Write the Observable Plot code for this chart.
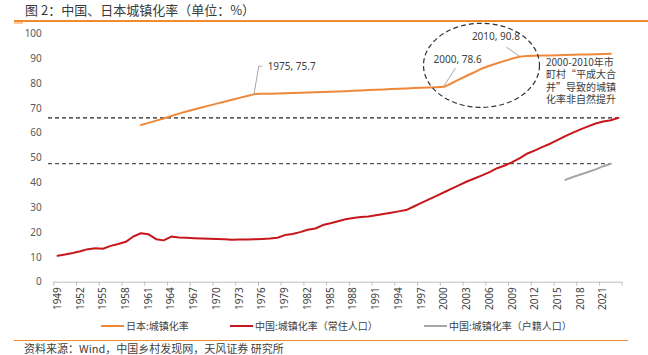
<!DOCTYPE html>
<html><head><meta charset="utf-8">
<script src="https://cdn.jsdelivr.net/npm/d3@7"></script>
<script src="https://cdn.jsdelivr.net/npm/@observablehq/plot@0.6"></script>
<style>
body{margin:0;background:#fff;}
#wrap{position:relative;width:648px;height:355px;font-family:"Noto Sans CJK SC","Noto Sans",sans-serif;color:#404040;overflow:hidden;background:#fff}
#title{position:absolute;left:25px;top:2px;font-size:13px;line-height:16px;color:#3a3a3a;white-space:nowrap}
#topline{position:absolute;left:14px;top:20px;width:634px;height:1.5px;background:#F08A2C}
#topmark{position:absolute;left:14px;top:21.5px;width:9px;height:2px;background:#F9C89B}
#chart{position:absolute;left:0;top:22px}
#note{position:absolute;left:546px;top:56px;font-size:10px;line-height:12.3px;color:#404040;white-space:nowrap}
.lg{position:absolute;top:319px;font-size:10px;line-height:14px;color:#404040;white-space:nowrap}
.sw{position:absolute;top:325px;width:23px;height:2px}
#botline{position:absolute;left:14px;top:339.5px;width:614px;height:1.5px;background:#F08A2C}
#source{position:absolute;left:24px;top:341.5px;font-size:11px;line-height:13px;color:#404040;white-space:nowrap}
</style></head><body>
<div id="wrap">
 <div id="title">图&nbsp;2：中国、日本城镇化率（单位：%）</div>
 <div id="topline"></div><div id="topmark"></div>
 <div id="chart"></div>
 <div id="note">2000-2010年市<br>町村“平成大合<br>并”导致的城镇<br>化率非自然提升</div>
 <div id="legend"></div>
 <div id="botline"></div>
 <div id="source">资料来源：Wind，中国乡村发现网，天风证券 研究所</div>
</div>
<script>
// ---------------- data ----------------
const chinaYears = [1949,1950,1951,1952,1953,1954,1955,1956,1957,1958,1959,1960,1961,1962,1963,1964,1965,1966,1967,1968,1969,1970,1971,1972,1973,1974,1975,1976,1977,1978,1979,1980,1981,1982,1983,1984,1985,1986,1987,1988,1989,1990,1991,1992,1993,1994,1995,1996,1997,1998,1999,2000,2001,2002,2003,2004,2005,2006,2007,2008,2009,2010,2011,2012,2013,2014,2015,2016,2017,2018,2019,2020,2021,2022,2023];
const chinaResident = [10.64,11.18,11.78,12.46,13.31,13.69,13.48,14.62,15.39,16.25,18.41,19.75,19.29,17.33,16.84,18.37,17.98,17.86,17.74,17.62,17.50,17.38,17.26,17.13,17.20,17.16,17.34,17.44,17.55,17.92,18.96,19.39,20.16,21.13,21.62,23.01,23.71,24.52,25.32,25.81,26.21,26.41,26.94,27.46,27.99,28.51,29.04,30.48,31.91,33.35,34.78,36.22,37.66,39.09,40.53,41.76,42.99,44.34,45.89,46.99,48.34,49.95,51.83,53.10,54.49,55.75,57.33,58.84,60.24,61.50,62.71,63.89,64.72,65.22,66.16];

const japanYears = [1960,1961,1962,1963,1964,1965,1966,1967,1968,1969,1970,1971,1972,1973,1974,1975,1976,1977,1978,1979,1980,1981,1982,1983,1984,1985,1986,1987,1988,1989,1990,1991,1992,1993,1994,1995,1996,1997,1998,1999,2000,2001,2002,2003,2004,2005,2006,2007,2008,2009,2010,2011,2012,2013,2014,2015,2016,2017,2018,2019,2020,2021,2022];
const japanUrban = [63.27,64.15,65.04,65.93,66.88,67.87,68.69,69.51,70.30,71.09,71.88,72.66,73.43,74.20,74.96,75.72,75.82,75.91,76.00,76.09,76.18,76.28,76.38,76.48,76.58,76.68,76.80,76.92,77.04,77.16,77.34,77.48,77.61,77.75,77.89,78.02,78.14,78.27,78.40,78.52,78.65,80.09,81.65,83.12,84.51,86.04,87.15,88.15,89.11,90.02,90.81,91.07,91.16,91.23,91.30,91.38,91.46,91.54,91.62,91.70,91.78,91.87,91.95];

const hukouYears = [2016,2017,2018,2019,2020,2021,2022];
const chinaHukou = [41.2,42.35,43.37,44.38,45.4,46.7,47.7];

const xLabelYears = [1949,1952,1955,1958,1961,1964,1967,1970,1973,1976,1979,1982,1985,1988,1991,1994,1997,2000,2003,2006,2009,2012,2015,2018,2021];
const yTicks = [0,10,20,30,40,50,60,70,80,90,100];

const refValues = [66.16, 47.7];
const refEndYears = [2023, 2022];

const annYears = [1975, 2000, 2010];
const annValues = [75.7, 78.6, 90.8];
const annLabels = ["1975, 75.7", "2000, 78.6", "2010, 90.8"];

const seriesNames = ["日本:城镇化率", "中国:城镇化率（常住人口）", "中国:城镇化率（户籍人口）"];

// ---------------- styles ----------------
const C_JP = "#F0883A", C_CN = "#C8161D", C_HK = "#A6A6A6";
const seriesColors = [C_JP, C_CN, C_HK];
const annLabelOffset = [[13,-27],[-10.5,-27],[-48,-20]];
const annLeaders = [[[0,0],[4.6,-27.5],[8.1,-27.5]], [[0,0],[11.8,-18.2]], [[0,0],[-13,-9]]];

const jp = japanYears.map((y,i)=>({year:y, v:japanUrban[i]}));
const cn = chinaYears.map((y,i)=>({year:y, v:chinaResident[i]}));
const hk = hukouYears.map((y,i)=>({year:y, v:chinaHukou[i]}));
const tickBounds = xLabelYears.map(y => y - 0.5).concat([2023.5]);

const marks = [
  Plot.ruleY([0], {stroke:"#BFBFBF", strokeWidth:1}),
  Plot.axisX(tickBounds, {tickSize:4, stroke:"#BFBFBF", tickFormat:()=>"", label:null}),
  Plot.axisX(xLabelYears, {tickSize:0, tickRotate:-90, tickPadding:5, tickFormat:d=>String(d), label:null, fill:"#404040", fontSize:10}),
  Plot.axisY(yTicks, {tickSize:0, tickPadding:12, label:null, fill:"#595959", fontSize:10}),
  Plot.ruleY([0], {y: ()=>refValues[0], x1: 1947.8, x2: refEndYears[0], stroke:"#222", strokeWidth:1.2, strokeDasharray:"4,3"}),
  Plot.ruleY([0], {y: ()=>refValues[1], x1: 1947.8, x2: refEndYears[1], stroke:"#555", strokeWidth:1.2, strokeDasharray:"4,3"}),
  Plot.line(jp, {x:"year", y:"v", stroke:C_JP, strokeWidth:2}),
  Plot.line(cn, {x:"year", y:"v", stroke:C_CN, strokeWidth:2}),
  Plot.line(hk, {x:"year", y:"v", stroke:C_HK, strokeWidth:2}),
];
annYears.forEach((yr,i)=>{
  marks.push(Plot.text([i], {x:()=>yr, y:()=>annValues[i], text:()=>annLabels[i], dx:annLabelOffset[i][0], dy:annLabelOffset[i][1], textAnchor:"start", fill:"#404040", fontSize:10}));
});

const plot = Plot.plot({
  width:648, height:293,
  marginTop:11.3, marginBottom:33.3, marginLeft:53.3, marginRight:26.3,
  x:{type:"linear", domain:[1948.5, 2023.5]},
  y:{domain:[0,100]},
  style:{fontFamily:'"Noto Sans","Noto Sans CJK SC",sans-serif', fontSize:"10px", color:"#404040", background:"transparent", overflow:"visible"},
  marks
});
document.getElementById("chart").appendChild(plot);

// leaders and ellipse drawn through Plot's own scales
const xs = plot.scale("x"), ys = plot.scale("y");
const svg = d3.select(plot);
const g = svg.append("g");
annYears.forEach((yr,i)=>{
  const px = xs.apply(yr), py = ys.apply(annValues[i]);
  const pts = annLeaders[i].map(([ox,oy])=>[px+ox, py+oy]);
  g.append("path").attr("d", d3.line()(pts)).attr("fill","none").attr("stroke","#A6A6A6").attr("stroke-width",1);
});
const cx = (xs.apply(annYears[1]) + xs.apply(annYears[2]))/2;
const cy = (ys.apply(annValues[1]) + ys.apply(annValues[2]))/2 - 6;
g.append("ellipse").attr("cx",cx).attr("cy",cy).attr("rx",58).attr("ry",42)
  .attr("fill","none").attr("stroke","#333").attr("stroke-width",1.2).attr("stroke-dasharray","5,3");

// legend
const lg = document.getElementById("legend");
const swX = [101, 230, 424];
seriesNames.forEach((n,i)=>{
  const s = document.createElement("div"); s.className="sw"; s.style.left=swX[i]+"px"; s.style.background=seriesColors[i]; lg.appendChild(s);
  const t = document.createElement("div"); t.className="lg"; t.style.left=(swX[i]+25)+"px"; t.textContent=n; lg.appendChild(t);
});
</script>
</body></html>
